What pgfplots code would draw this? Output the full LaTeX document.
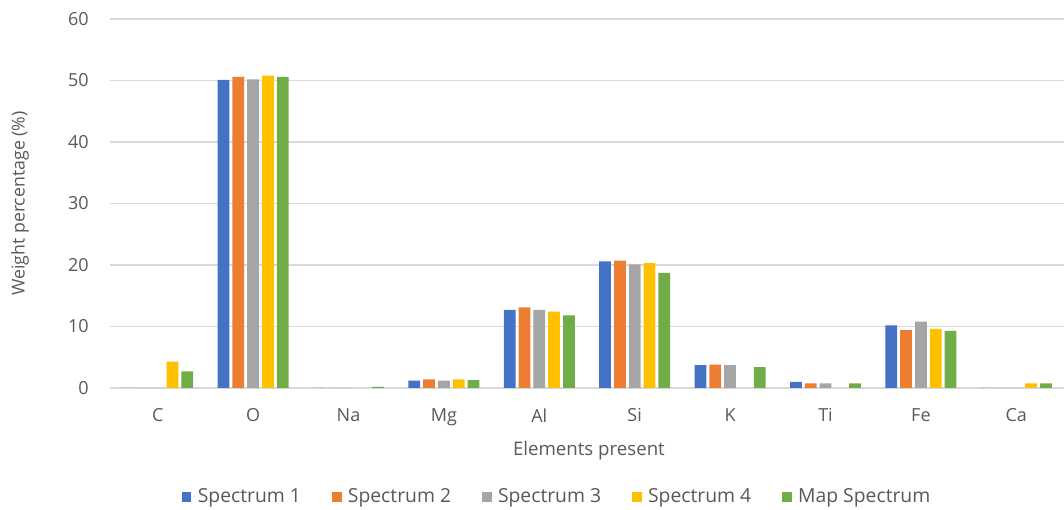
\documentclass[border=0pt]{standalone}
\usepackage{pgfplots}
\pgfplotsset{compat=1.18}
\usepackage{pgfplotstable}
\usepackage{fontspec}
\setmainfont{Open Sans}
\definecolor{cA}{HTML}{4472C4}
\definecolor{cB}{HTML}{ED7D31}
\definecolor{cC}{HTML}{A5A5A5}
\definecolor{cD}{HTML}{FFC000}
\definecolor{cE}{HTML}{70AD47}
\definecolor{txt}{HTML}{595959}
\definecolor{grd}{HTML}{D9D9D9}
\pgfplotstableread{
x  s1   s2   s3   s4   map
0  0    0    0    4.3  2.7
1  50.1 50.6 50.2 50.8 50.6
2  0    0    0    0    0.2
3  1.2  1.4  1.2  1.4  1.3
4  12.7 13.1 12.7 12.4 11.8
5  20.6 20.7 20.1 20.3 18.7
6  3.7  3.8  3.7  0    3.4
7  1.0  0.75 0.75 0   0.75
8  10.2 9.4  10.8 9.6  9.3
9  0    0    0    0.75 0.75
}\data
\begin{document}
\begin{tikzpicture}
\path[use as bounding box] (-82.5pt,-91.5pt) rectangle (715.5pt,291pt);
\begin{axis}[
  at={(0pt,0pt)}, anchor=south west,
  scale only axis, width=715.5pt, height=276.75pt,
  ybar=2.3pt, bar width=8.8pt,
  xmin=-0.5, xmax=9.5, ymin=0, ymax=60,
  ytick={0,10,...,60},
  xtick={0,...,9},
  xticklabels={C,O,Na,Mg,Al,Si,K,Ti,Fe,Ca},
  ymajorgrids, grid style={grd, line width=0.8pt},
  axis x line*=bottom, axis y line*=left,
  x axis line style={grd, line width=0.8pt, -},
  y axis line style={draw=none},
  major tick length=0pt,
  tick label style={font=\fontsize{13.5}{15}\selectfont, text=txt},
  /pgf/number format/assume math mode=true,
  yticklabel style={xshift=-12.5pt},
  xticklabel style={yshift=-12pt},
  xlabel={Elements present}, ylabel={Weight percentage (\%)},
  xlabel style={font=\fontsize{14}{16}\selectfont, text=txt,
    at={(axis description cs:0.502,-0.171)}, anchor=center},
  ylabel style={font=\fontsize{13.3}{15}\selectfont, text=txt,
    at={(axis description cs:-0.0943,0.5)}, anchor=center},
  legend columns=-1,
  legend style={draw=none, font=\fontsize{14.5}{16}\selectfont, text=txt,
    at={(axis description cs:0.469,-0.295)}, anchor=center,
    /tikz/every even column/.append style={column sep=21.2pt}},
  legend image code/.code={\path (0pt,0pt) -- (10pt,0pt);\fill[#1] (0pt,-3.6pt) rectangle (7.2pt,3.6pt);},
]
\addplot[fill=cA, draw=none] table[x=x,y=s1] {\data};
\addplot[fill=cB, draw=none] table[x=x,y=s2] {\data};
\addplot[fill=cC, draw=none] table[x=x,y=s3] {\data};
\addplot[fill=cD, draw=none] table[x=x,y=s4] {\data};
\addplot[fill=cE, draw=none] table[x=x,y=map] {\data};
\legend{Spectrum 1,Spectrum 2,Spectrum 3,Spectrum 4,Map Spectrum}
\end{axis}
\end{tikzpicture}
\end{document}
